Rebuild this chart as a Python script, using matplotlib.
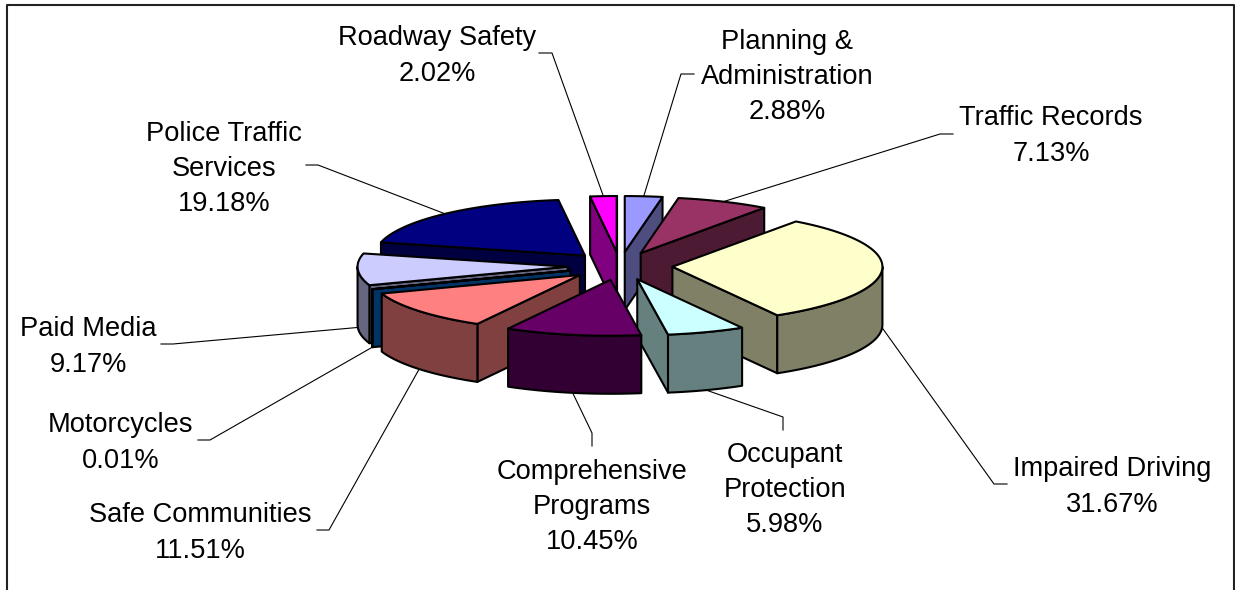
import numpy as np
import matplotlib
matplotlib.use("Agg")
import matplotlib.pyplot as plt

plt.rcParams['font.family'] = ['Liberation Sans', 'DejaVu Sans']

labels = ["Planning &\nAdministration", "Traffic Records", "Impaired Driving",
          "Occupant\nProtection", "Comprehensive\nPrograms", "Safe Communities",
          "Motorcycles", "Paid Media", "Police Traffic\nServices", "Roadway Safety"]
values = [2.88, 7.13, 31.67, 5.98, 10.45, 11.51, 0.01, 9.17, 19.18, 2.02]
top_colors = ["#9999FF", "#993366", "#FFFFCC", "#CCFFFF", "#660066",
              "#FF8080", "#0066CC", "#CCCCFF", "#000080", "#FF00FF"]
wall_colors = ["#4D4D80", "#4D1A33", "#808066", "#668080", "#330033",
               "#804040", "#003366", "#666680", "#000040", "#800080"]

# text centre and leader elbow for each label, in pixels
text_pos = [(787, 77), (1051, 136), (1112, 487), (785, 490), (592, 507),
            (200, 533), (121, 443), (88, 347), (224, 169), (437, 56)]
elbows = [[(681, 74), (694, 74)], [(940, 134), (953, 134)], [(994, 484), (1007, 484)],
          [(783, 417), (783, 430)], [(592, 433), (592, 446)], [(329, 530), (317, 530)],
          [(210, 440), (198, 440)], [(173, 344), (161, 344)], [(318, 165), (306, 165)],
          [(552, 53), (539, 53)]]

# pie geometry
CX, CY = 620, 266
RX, RY = 210, 56
DEPTH = 58
EXPLODE = 0.25
# painter's order, back to front
draw_order = [8, 9, 0, 1, 7, 6, 2, 5, 3, 4]


def rim(apex, angle, drop=0):
    # angle in degrees, clockwise from 12 o'clock
    a = np.radians(angle)
    return apex[0] + RX * np.sin(a), apex[1] - RY * np.cos(a) + drop


def poly(ax, pts, color):
    ax.fill(*zip(*pts), facecolor=color, edgecolor="black", linewidth=1.5,
            joinstyle="round", zorder=3)


fig = plt.figure(figsize=(12.35, 5.9), dpi=100)
ax = fig.add_axes([0, 0, 1, 1])
ax.set_xlim(0, 1235)
ax.set_ylim(590, 0)
ax.axis("off")

# chart frame
ax.plot([7, 7, 1234, 1234], [590, 5, 5, 590], color="#222222", linewidth=1.5, zorder=1)

edges = np.cumsum([0] + values) / sum(values) * 360
slices = []
for i in range(len(values)):
    mid = np.radians((edges[i] + edges[i + 1]) / 2)
    apex = (CX + EXPLODE * RX * np.sin(mid), CY - EXPLODE * RY * np.cos(mid))
    slices.append((edges[i], edges[i + 1], apex))

# leader lines
for i, (start, end, apex) in enumerate(slices):
    mid = (start + end) / 2
    drop = DEPTH if 90 < mid < 270 else 0
    pts = [rim(apex, mid, drop)] + elbows[i]
    ax.plot(*zip(*pts), color="black", linewidth=0.8, zorder=2)

for i in draw_order:
    start, end, apex = slices[i]
    low = (apex[0], apex[1] + DEPTH)
    # radial walls, only the ones facing the viewer
    if np.sin(np.radians(start)) < 0:
        poly(ax, [apex, rim(apex, start), rim(apex, start, DEPTH), low], wall_colors[i])
    if np.sin(np.radians(end)) > 0:
        poly(ax, [apex, rim(apex, end), rim(apex, end, DEPTH), low], wall_colors[i])
    # outer wall
    a0, a1 = max(start, 90), min(end, 270)
    if a1 > a0:
        arc = np.linspace(a0, a1, 60)
        pts = [rim(apex, a) for a in arc] + [rim(apex, a, DEPTH) for a in arc[::-1]]
        poly(ax, pts, wall_colors[i])
    # top face
    arc = np.linspace(start, end, 60)
    poly(ax, [apex] + [rim(apex, a) for a in arc], top_colors[i])

for i, (x, y) in enumerate(text_pos):
    ax.text(x, y, f"{labels[i]}\n{values[i]:.2f}%", ha="center", va="center",
            fontsize=19.6, linespacing=1.47, color="black", zorder=5)

fig.savefig("out.png", dpi=100)
